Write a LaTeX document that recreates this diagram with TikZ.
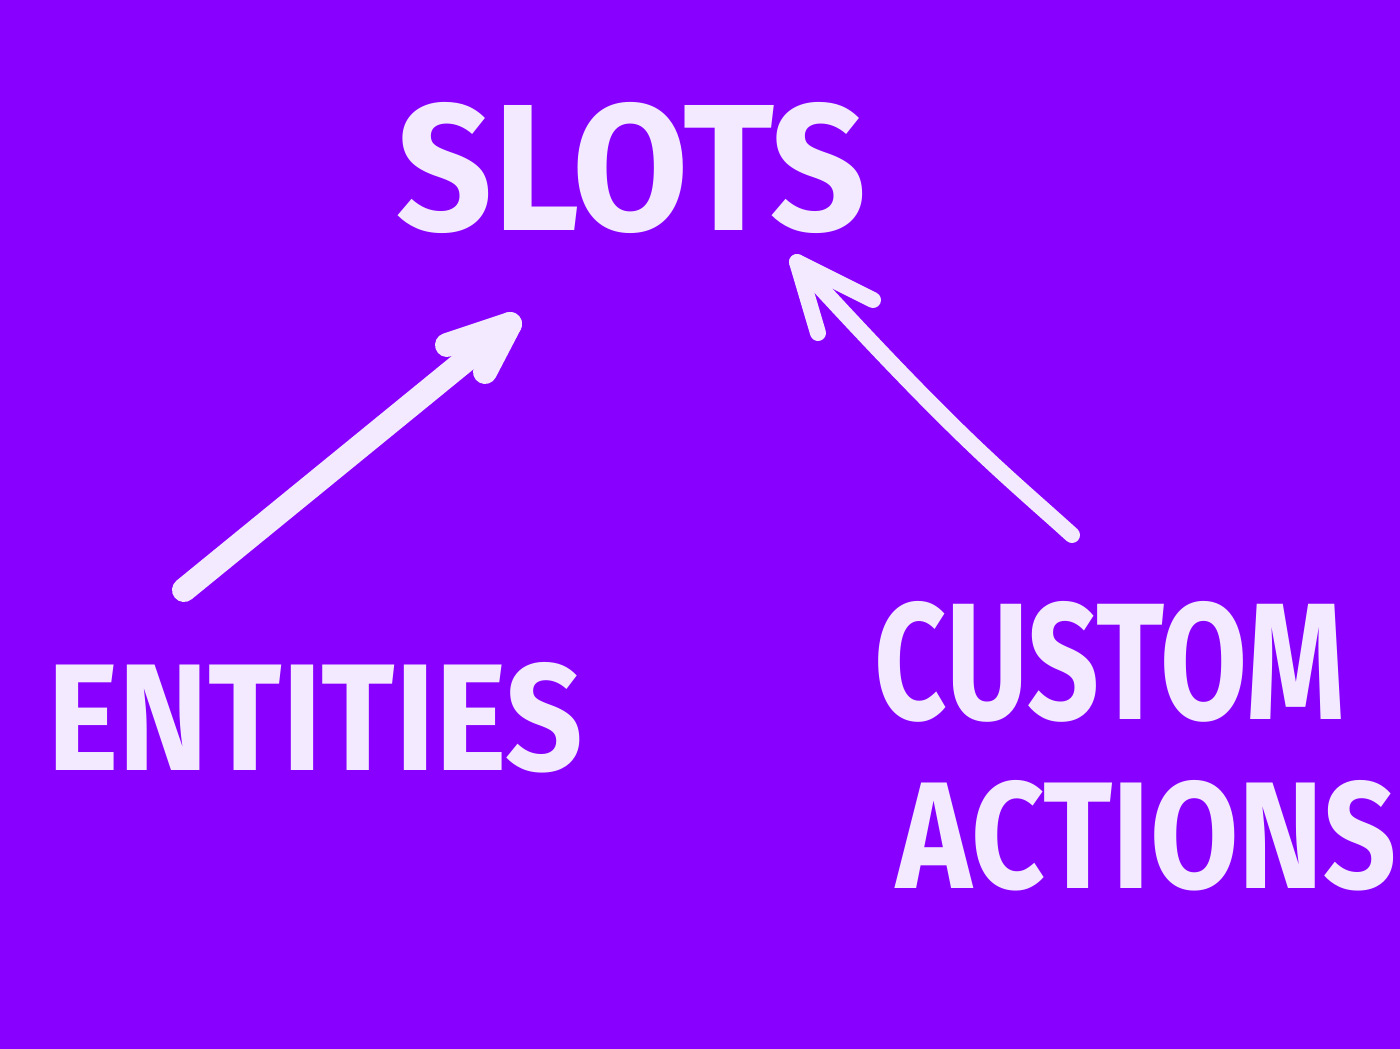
\documentclass[tikz,border=0pt]{standalone}
\usepackage{fontspec}
\setmainfont{Fira Sans}
\definecolor{bg}{HTML}{8800FF}
\definecolor{ink}{HTML}{F3EAFF}
\tikzset{
  lbl/.style={text=ink, inner sep=0pt, font=\bfseries},
  stroke/.style={draw=ink, line width=24pt, line cap=round, line join=round},
}
\begin{document}
\begin{tikzpicture}[x=1pt,y=-1pt]
\fill[bg] (0,0) rectangle (1400,1049);
\useasboundingbox (0,0) rectangle (1400,1049);
\node[lbl] (slots) at (632,168) {\resizebox{470pt}{128pt}{SLOTS}};
\node[lbl] (entities) at (315,718) {\resizebox{535pt}{108pt}{ENTITIES}};
\node[lbl] (custom) at (1110,662) {\resizebox{470pt}{118pt}{CUSTOM}};
\node[lbl] (actions) at (1147,836) {\resizebox{500pt}{108pt}{ACTIONS}};
% left arrow
\coordinate (la) at (184,590);
\coordinate (lb) at (510,324);
\draw[stroke] (la) -- (lb);
\draw[stroke] (447,345) -- (lb) -- (485,372);
% right arrow
\coordinate (ra) at (1072,535);
\coordinate (rb) at (797,262);
\draw[stroke, line width=16pt] (ra) .. controls (1000,470) and (960,440) .. (rb);
\draw[stroke, line width=16pt] (818,333) -- (rb) -- (873,300);
\end{tikzpicture}
\end{document}
